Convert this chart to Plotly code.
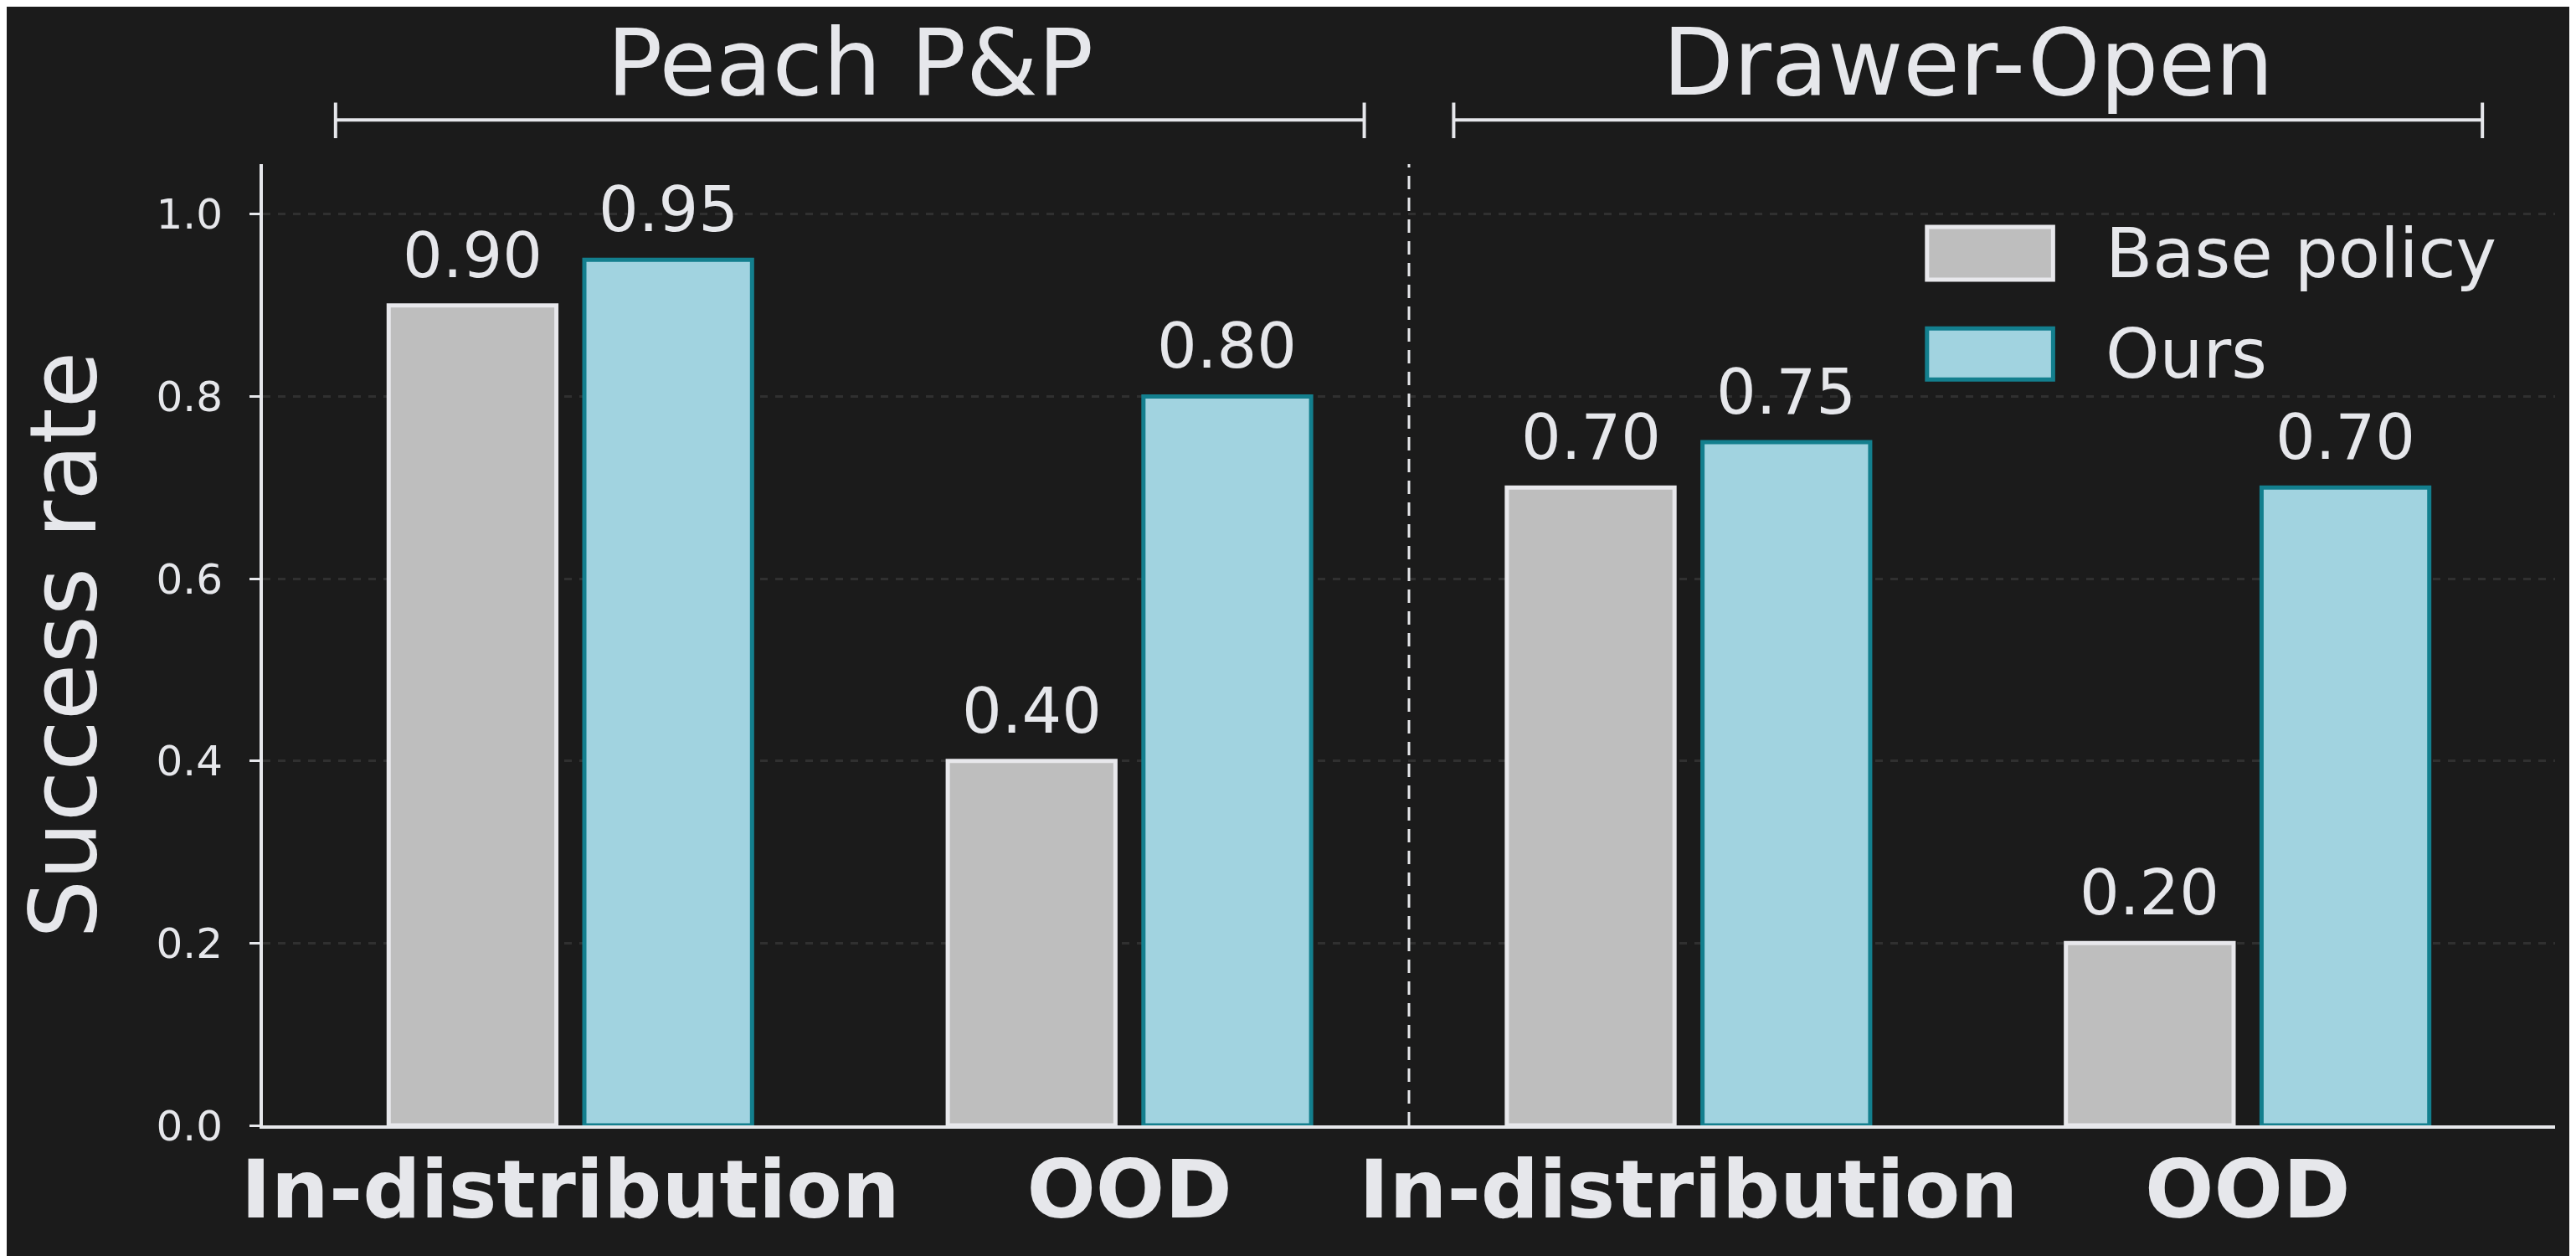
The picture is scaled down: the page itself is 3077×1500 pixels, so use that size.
import plotly.graph_objects as go

# data
categories = ["In-distribution", "OOD", "In-distribution", "OOD"]
tasks = ["Peach P&P", "Drawer-Open"]
base_policy = [0.90, 0.40, 0.70, 0.20]
ours = [0.95, 0.80, 0.75, 0.70]

BG = "#1b1b1b"
FG = "#e6e7eb"
GRID = "#303030"
BASE_FILL, BASE_EDGE = "#bebebe", "#e8e8ec"
OURS_FILL, OURS_EDGE = "#a1d3e0", "#137f8e"
FONT = "DejaVu Sans"

xpos = list(range(len(categories)))

fig = go.Figure()
fig.add_bar(x=xpos, y=base_policy, name="Base policy", marker_color=BASE_FILL,
            marker_line_color=BASE_EDGE, marker_line_width=5, showlegend=False)
fig.add_bar(x=xpos, y=ours, name="Ours", marker_color=OURS_FILL,
            marker_line_color=OURS_EDGE, marker_line_width=5, showlegend=False)

# value labels above bars
offset = 0.175
for i, v in enumerate(base_policy):
    fig.add_annotation(x=xpos[i] - offset, y=v, text=f"{v:.2f}", showarrow=False,
                       xanchor="center", yanchor="bottom", yshift=14, font=dict(size=75, color=FG))
for i, v in enumerate(ours):
    fig.add_annotation(x=xpos[i] + offset, y=v, text=f"{v:.2f}", showarrow=False,
                       xanchor="center", yanchor="bottom", yshift=14, font=dict(size=75, color=FG))

# task brackets + titles
for k, t in enumerate(tasks):
    a, b = xpos[2 * k] - 0.42, xpos[2 * k + 1] + 0.42
    line = dict(color=FG, width=4)
    fig.add_shape(type="line", xref="x", yref="paper", x0=a, x1=b, y0=1.046, y1=1.046, line=line)
    fig.add_shape(type="line", xref="x", yref="paper", x0=a, x1=a, y0=1.027, y1=1.064, line=line)
    fig.add_shape(type="line", xref="x", yref="paper", x0=b, x1=b, y0=1.027, y1=1.064, line=line)
    fig.add_annotation(x=(xpos[2 * k] + xpos[2 * k + 1]) / 2, xref="x", y=1.105, yref="paper",
                       text=t, showarrow=False, xanchor="center", yanchor="middle",
                       font=dict(size=110, color=FG))

# separator between tasks
fig.add_shape(type="line", xref="x", yref="paper", x0=1.5, x1=1.5, y0=0, y1=1,
              line=dict(color=FG, width=3, dash="16px,10px"))

# custom legend
legend_items = [("Base policy", BASE_FILL, BASE_EDGE, 0.9347, 0.8798),
                ("Ours", OURS_FILL, OURS_EDGE, 0.829, 0.776)]
for name, fill, edge, y0, y1 in legend_items:
    fig.add_shape(type="rect", xref="paper", yref="paper", x0=0.726, x1=0.781, y0=y1, y1=y0,
                  fillcolor=fill, line=dict(color=edge, width=5))
    fig.add_annotation(xref="paper", yref="paper", x=0.803, y=(y0 + y1) / 2, text=name,
                       showarrow=False, xanchor="left", yanchor="middle",
                       font=dict(size=82, color=FG))

# y title
fig.add_annotation(xref="paper", yref="paper", x=-0.087, y=0.5, text="Success rate",
                   textangle=-90, showarrow=False, xanchor="center", yanchor="middle",
                   font=dict(size=110, color=FG))

fig.update_layout(
    width=3077, height=1500,
    paper_bgcolor=BG, plot_bgcolor=BG,
    font=dict(family=FONT, color=FG),
    margin=dict(l=306, r=33, t=188, b=164),
    barmode="group", bargap=0.3, bargroupgap=0.143,
)
fig.update_xaxes(range=[-0.55, 3.55], tickvals=xpos, ticktext=[f"<b>{c}</b>" for c in categories],
                 tickfont=dict(size=97, color=FG), showline=True, linecolor=FG, linewidth=4,
                 showgrid=False, zeroline=False, ticks="", ticklabelstandoff=-10)
fig.update_yaxes(range=[0, 1.055], tickvals=[0, 0.2, 0.4, 0.6, 0.8, 1.0],
                 ticktext=["0.0", "0.2", "0.4", "0.6", "0.8", "1.0"],
                 tickfont=dict(size=50, color=FG), showline=True, linecolor=FG, linewidth=4,
                 ticks="outside", ticklen=12, tickwidth=3, tickcolor=FG, ticklabelstandoff=22,
                 showgrid=True, gridcolor=GRID, gridwidth=3, griddash="dash", zeroline=False)

fig.write_html("out.html")
